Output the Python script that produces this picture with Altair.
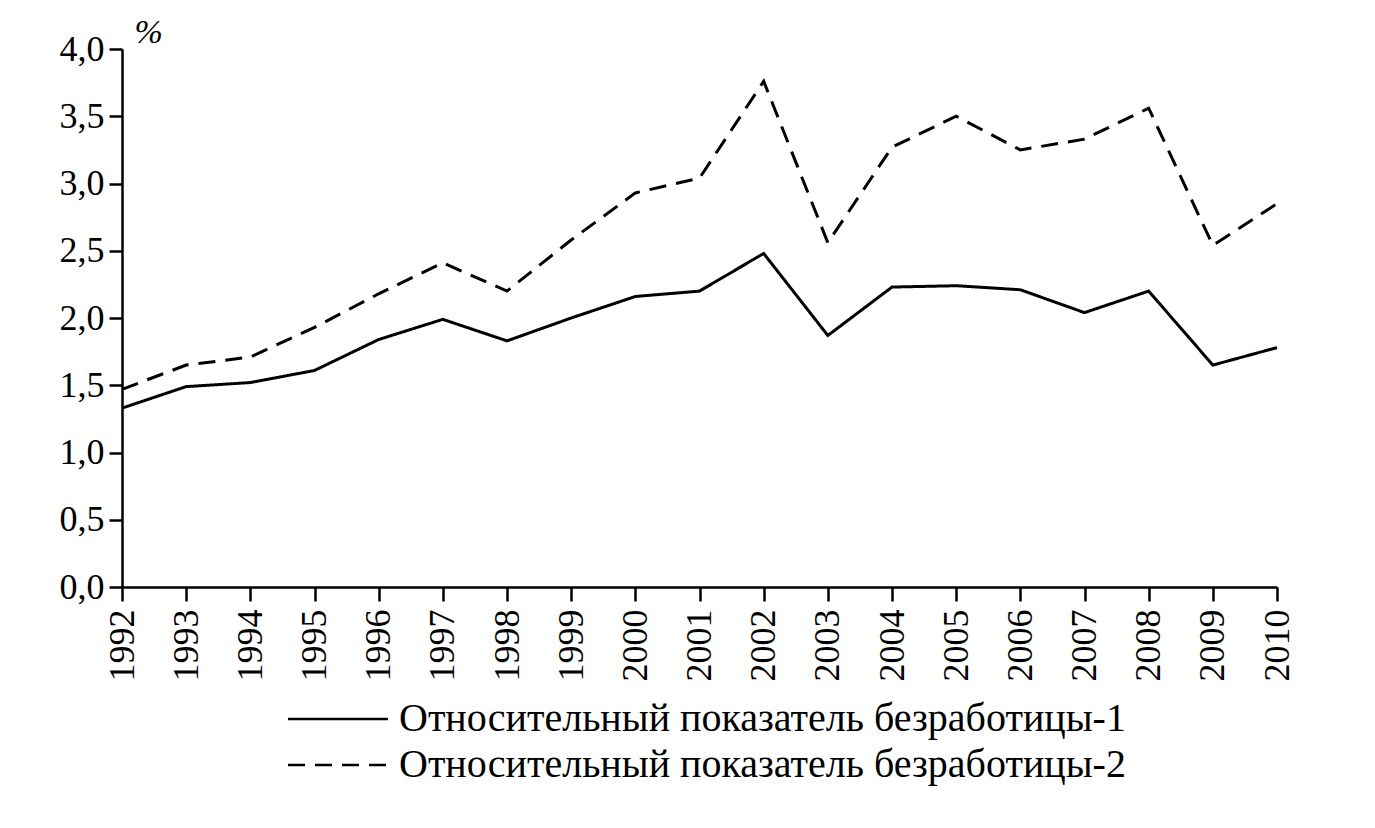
import altair as alt
import pandas as pd

years = list(range(1992, 2011))
series1 = [1.33, 1.49, 1.52, 1.61, 1.84, 1.99, 1.83, 2.00, 2.16, 2.20,
           2.48, 1.87, 2.23, 2.24, 2.21, 2.04, 2.20, 1.65, 1.78]
series2 = [1.47, 1.65, 1.71, 1.93, 2.18, 2.41, 2.20, 2.58, 2.93, 3.04,
           3.76, 2.56, 3.27, 3.50, 3.25, 3.33, 3.56, 2.54, 2.85]
names = ["Относительный показатель безработицы-1",
         "Относительный показатель безработицы-2"]
y_ticks = [0, 0.5, 1.0, 1.5, 2.0, 2.5, 3.0, 3.5, 4.0]

rows = []
for i, y in enumerate(years):
    rows.append({"year": y, "value": series1[i], "series": names[0]})
    rows.append({"year": y, "value": series2[i], "series": names[1]})
df = pd.DataFrame(rows)

FONT = "Liberation Serif"

chart = alt.Chart(df).mark_line(color="black", strokeWidth=3).encode(
    x=alt.X("year:Q",
            scale=alt.Scale(domain=[1992, 2010], nice=False, zero=False),
            axis=alt.Axis(values=years, format="d", labelAngle=-90,
                          title=None, grid=False, tickSize=14,
                          labelPadding=8, labelFontSize=36, labelFont=FONT,
                          labelColor="black", domainColor="black",
                          tickColor="black", domainWidth=2.5, tickWidth=2.5,
                          labelOverlap=False)),
    y=alt.Y("value:Q",
            scale=alt.Scale(domain=[0, 4], nice=False),
            axis=alt.Axis(values=y_ticks,
                          labelExpr="replace(format(datum.value, '.1f'), '.', ',')",
                          title="%", titleAngle=0, titleX=12, titleY=0,
                          titleAlign="left", titleBaseline="bottom",
                          titleFontStyle="italic", titleFontWeight="normal",
                          titleFontSize=34, titleFont=FONT, titleColor="black",
                          grid=False, tickSize=13, labelPadding=5,
                          labelFontSize=36, labelFont=FONT, labelColor="black",
                          domainColor="black", tickColor="black",
                          domainWidth=2.5, tickWidth=2.5)),
    strokeDash=alt.StrokeDash(
        "series:N",
        scale=alt.Scale(domain=names, range=[[1, 0], [17, 10]]),
        legend=alt.Legend(title=None, orient="none", legendX=196, legendY=650,
                          symbolType="M-5,0L5,0", symbolSize=400,
                          symbolStrokeWidth=2.5, symbolStrokeColor="black",
                          labelFont=FONT, labelFontSize=40, labelColor="black",
                          labelOffset=41, labelLimit=1000, rowPadding=6,
                          padding=0)),
).properties(
    width=1155, height=538,
    autosize=alt.AutoSizeParams(type="none"),
    padding={"left": 114, "top": 41, "right": 80, "bottom": 225},
    background="white",
).configure_view(strokeWidth=0)

chart.save("out.html", embed_options={"renderer": "svg", "actions": False})
